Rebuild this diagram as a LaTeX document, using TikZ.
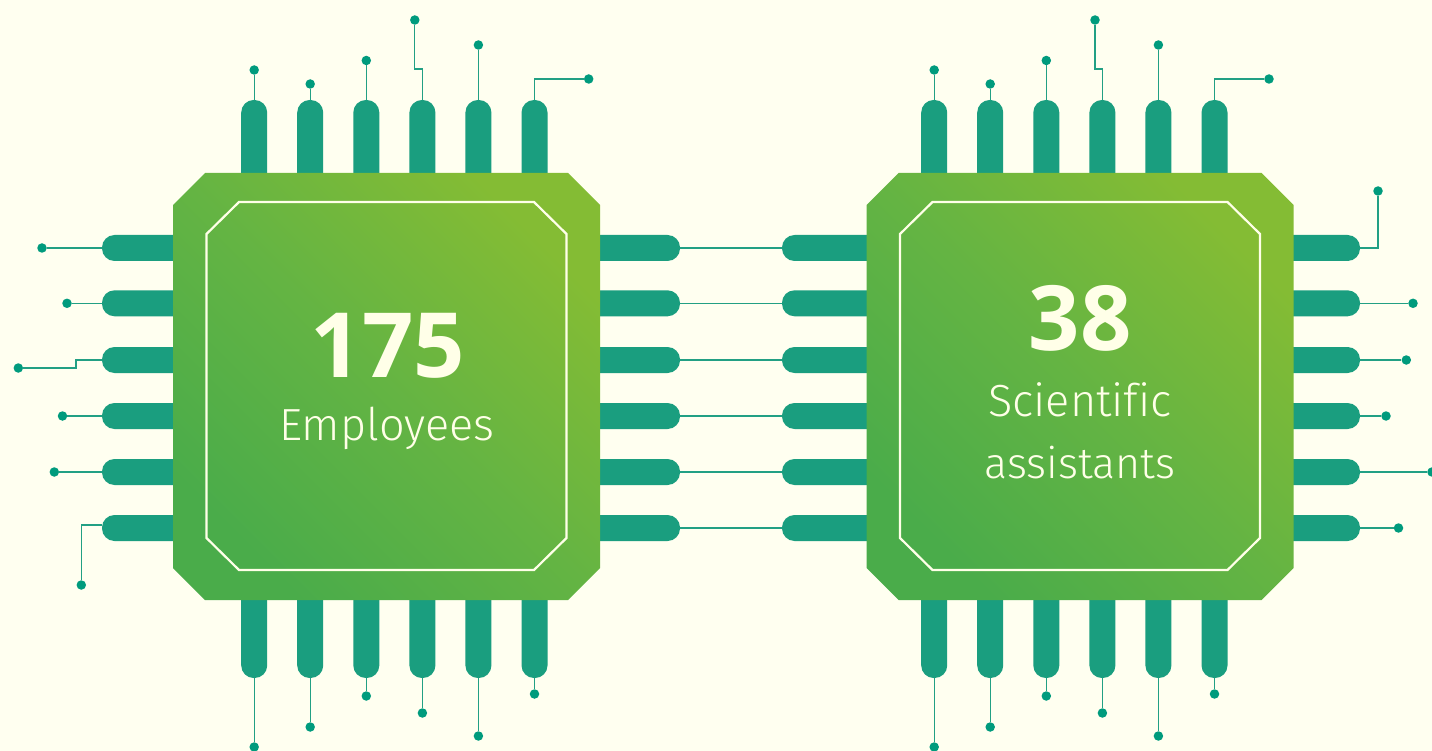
\documentclass[tikz,border=0pt]{standalone}
\usepackage{fontspec}
\setmainfont{Fira Sans Light}[Ligatures=NoCommon]
\newfontfamily\numfont{Open Sans Bold}
\definecolor{bgc}{HTML}{FFFFF0}
\definecolor{pinc}{HTML}{1A9E7F}
\definecolor{dotc}{HTML}{009B7D}
\definecolor{wirec}{HTML}{22A084}
\definecolor{chipa}{HTML}{84BC34}
\definecolor{chipm}{HTML}{64B443}
\definecolor{chipb}{HTML}{4AAC4A}
\definecolor{framec}{HTML}{FFFFE8}
\tikzset{
  x=1pt,y=-1pt,
  pinshape/.style={fill=pinc,draw=none},
  dot/.style={circle,fill=dotc,draw=none,minimum size=9.5pt,inner sep=0pt},
  wire/.style={draw=wirec,line width=1.3pt},
  chipbody/.style={top color=chipa,bottom color=chipb,middle color=chipm,shading angle=-45,draw=none},
  chipframe/.style={draw=framec,line width=2.2pt},
  bignum/.style={text=framec,font=\fontsize{90}{90}\selectfont\numfont,inner sep=0pt},
  chiplabel/.style={text=framec,font=\fontsize{45}{45}\selectfont,inner sep=0pt},
}
% vertical pin: name, centre x, base y, end y
\newcommand{\pinV}[4]{\path[pinshape] (#2-13,#3) [rounded corners=12.5pt] -- (#2-13,#4) -- (#2+13,#4) [sharp corners] -- (#2+13,#3) -- cycle; \coordinate (#1) at (#2,#4);}
% horizontal pin: name, centre y, base x, end x
\newcommand{\pinH}[4]{\path[pinshape] (#3,#2-13) [rounded corners=12.5pt] -- (#4,#2-13) -- (#4,#2+13) [sharp corners] -- (#3,#2+13) -- cycle; \coordinate (#1) at (#4,#2);}
% chip: left x
\newcommand{\chipat}[1]{%
  \path[chipbody] (#1+32,173) -- (#1+395,173) -- (#1+427,205) -- (#1+427,568) -- (#1+395,600) -- (#1+32,600) -- (#1,568) -- (#1,205) -- cycle;
  \draw[chipframe] (#1+66,202) -- (#1+361,202) -- (#1+393.5,234) -- (#1+393.5,538) -- (#1+361,570) -- (#1+66,570) -- (#1+33.5,538) -- (#1+33.5,234) -- cycle;
}
\begin{document}
\begin{tikzpicture}
\useasboundingbox (0,0) rectangle (1432,751);
\fill[bgc] (0,0) rectangle (1432,751);

% ---- left chip pins
\pinV{at1}{254.2}{175}{100}\pinV{at2}{310.2}{175}{100}\pinV{at3}{366.3}{175}{100}\pinV{at4}{422.4}{175}{100}\pinV{at5}{478.4}{175}{100}\pinV{at6}{534.5}{175}{100}
\pinV{ab1}{254.2}{598}{678}\pinV{ab2}{310.2}{598}{678}\pinV{ab3}{366.3}{598}{678}\pinV{ab4}{422.4}{598}{678}\pinV{ab5}{478.4}{598}{678}\pinV{ab6}{534.5}{598}{678}
\pinH{al1}{248}{175}{102}\pinH{al2}{303.3}{175}{102}\pinH{al3}{360}{175}{102}\pinH{al4}{416}{175}{102}\pinH{al5}{472}{175}{102}\pinH{al6}{528}{175}{102}
\pinH{ar1}{248}{598}{680}\pinH{ar2}{303.3}{598}{680}\pinH{ar3}{360}{598}{680}\pinH{ar4}{416}{598}{680}\pinH{ar5}{472}{598}{680}\pinH{ar6}{528}{598}{680}
% ---- right chip pins
\pinV{bt1}{934.2}{175}{100}\pinV{bt2}{990.2}{175}{100}\pinV{bt3}{1046.3}{175}{100}\pinV{bt4}{1102.4}{175}{100}\pinV{bt5}{1158.4}{175}{100}\pinV{bt6}{1214.5}{175}{100}
\pinV{bb1}{934.2}{598}{678}\pinV{bb2}{990.2}{598}{678}\pinV{bb3}{1046.3}{598}{678}\pinV{bb4}{1102.4}{598}{678}\pinV{bb5}{1158.4}{598}{678}\pinV{bb6}{1214.5}{598}{678}
\pinH{bl1}{248}{869}{782}\pinH{bl2}{303.3}{869}{782}\pinH{bl3}{360}{869}{782}\pinH{bl4}{416}{869}{782}\pinH{bl5}{472}{869}{782}\pinH{bl6}{528}{869}{782}
\pinH{br1}{248}{1291}{1360}\pinH{br2}{303.3}{1291}{1360}\pinH{br3}{360}{1291}{1360}\pinH{br4}{416}{1291}{1360}\pinH{br5}{472}{1291}{1360}\pinH{br6}{528}{1291}{1360}

% ---- chips
\chipat{173}
\chipat{866.5}

% ---- dots, left chip
\node[dot] (dat1) at (254.2,70) {};\node[dot] (dat2) at (310.2,84) {};\node[dot] (dat3) at (366.3,60.5) {};\node[dot] (dat4) at (414.8,20) {};\node[dot] (dat5) at (478.4,45) {};\node[dot] (dat6) at (588.7,79) {};
\node[dot] (dab1) at (254.2,747) {};\node[dot] (dab2) at (310.2,727) {};\node[dot] (dab3) at (366.3,696) {};\node[dot] (dab4) at (422.4,713) {};\node[dot] (dab5) at (478.4,736) {};\node[dot] (dab6) at (534.5,694) {};
\node[dot] (dal1) at (42,248) {};\node[dot] (dal2) at (67,303.3) {};\node[dot] (dal3) at (18.3,368) {};\node[dot] (dal4) at (62.5,416) {};\node[dot] (dal5) at (54.3,472) {};\node[dot] (dal6) at (81.3,585) {};
% ---- dots, right chip
\node[dot] (dbt1) at (934.2,70) {};\node[dot] (dbt2) at (990.2,84) {};\node[dot] (dbt3) at (1046.3,60.5) {};\node[dot] (dbt4) at (1095,20) {};\node[dot] (dbt5) at (1158.4,45) {};\node[dot] (dbt6) at (1269,79) {};
\node[dot] (dbb1) at (934.2,747) {};\node[dot] (dbb2) at (990.2,727) {};\node[dot] (dbb3) at (1046.3,696) {};\node[dot] (dbb4) at (1102.4,713) {};\node[dot] (dbb5) at (1158.4,736) {};\node[dot] (dbb6) at (1214.5,694) {};
\node[dot] (dbr1) at (1378,191) {};\node[dot] (dbr2) at (1413,303.3) {};\node[dot] (dbr3) at (1406.3,360) {};\node[dot] (dbr4) at (1386,416) {};\node[dot] (dbr5) at (1432,472) {};\node[dot] (dbr6) at (1398.5,528) {};

% ---- connectors
\foreach \n in {1,2,3,5}{\draw[wire] (at\n) -- (dat\n); \draw[wire] (bt\n) -- (dbt\n);}
\foreach \n in {1,...,6}{\draw[wire] (ab\n) -- (dab\n); \draw[wire] (bb\n) -- (dbb\n); \draw[wire] (ar\n) -- (bl\n);}
\foreach \n in {1,2,4,5}{\draw[wire] (al\n) -- (dal\n);}
\foreach \n in {2,3,4,5,6}{\draw[wire] (br\n) -- (dbr\n);}
\draw[wire] (at4) -- (at4 |- 0,69) -| (dat4);
\draw[wire] (bt4) -- (bt4 |- 0,69) -| (dbt4);
\draw[wire] (at6) |- (dat6);
\draw[wire] (bt6) |- (dbt6);
\draw[wire] (al3) -- (76,360) |- (dal3);
\draw[wire] ([yshift=3pt]al6) -| (dal6);
\draw[wire] (br1) -| (dbr1);

% ---- labels
\node[bignum] (n175) at (388,346) {175};
\node[chiplabel] (lemp) at (387,428) {Employees};
\node[bignum] (n38) at (1080,318) {38};
\node[chiplabel] (lsci) at (1080,400) {Scientific};
\node[chiplabel,font=\fontsize{43}{43}\selectfont] (lass) at (1080,463) {assistants};
\end{tikzpicture}
\end{document}
